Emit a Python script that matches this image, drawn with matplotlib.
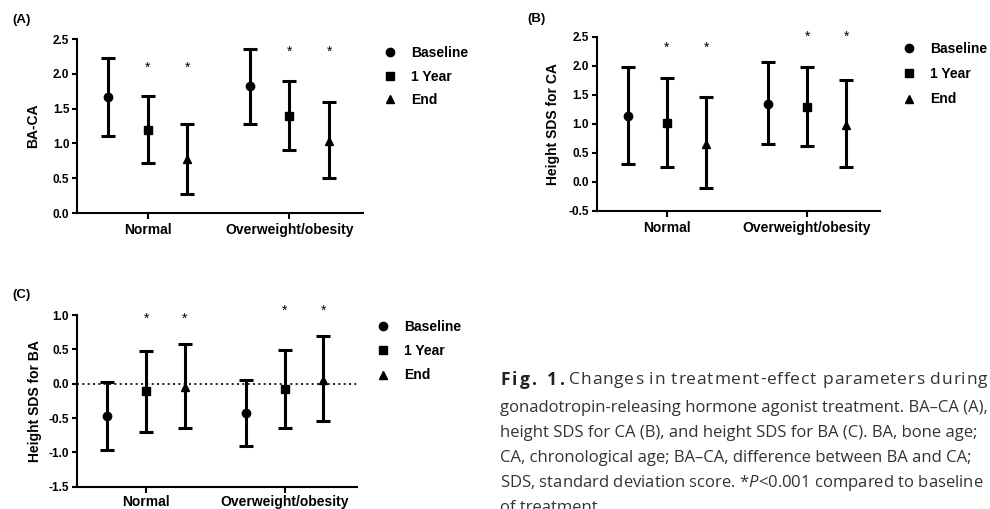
import matplotlib
matplotlib.use("Agg")
import matplotlib.pyplot as plt
from matplotlib.lines import Line2D

plt.rcParams["font.family"] = ["Liberation Sans", "DejaVu Sans"]
plt.rcParams["mathtext.fontset"] = "custom"
plt.rcParams["mathtext.it"] = "Open Sans:italic"
plt.rcParams["mathtext.rm"] = "Open Sans"

groups = ["Normal", "Overweight/obesity"]
timepoints = ["Baseline", "1 Year", "End"]
markers = ["o", "s", "^"]

# mean, lower, upper per timepoint, per group (Normal, Overweight/obesity)
ba_ca_mean = [[1.66, 1.82], [1.20, 1.40], [0.77, 1.03]]
ba_ca_low = [[1.10, 1.28], [0.72, 0.91], [0.28, 0.50]]
ba_ca_high = [[2.23, 2.36], [1.68, 1.90], [1.28, 1.60]]

sds_ca_mean = [[1.14, 1.34], [1.02, 1.29], [0.65, 0.98]]
sds_ca_low = [[0.30, 0.65], [0.26, 0.61], [-0.10, 0.25]]
sds_ca_high = [[1.98, 2.06], [1.78, 1.97], [1.46, 1.75]]

sds_ba_mean = [[-0.47, -0.42], [-0.11, -0.08], [-0.05, 0.06]]
sds_ba_low = [[-0.97, -0.90], [-0.70, -0.65], [-0.65, -0.54]]
sds_ba_high = [[0.03, 0.06], [0.48, 0.49], [0.58, 0.70]]

# star heights (1 Year and End) per group
star_a = [2.08, 2.31]
star_b = [2.30, 2.50]
star_c = [0.95, 1.06]

caption_head = "Changes in treatment-effect parameters during"
caption = [
    "gonadotropin-releasing hormone agonist treatment. BA\u2013CA (A),",
    "height SDS for CA (B), and height SDS for BA (C). BA, bone age;",
    "CA, chronological age; BA\u2013CA, difference between BA and CA;",
    "SDS, standard deviation score. *$P$<0.001 compared to baseline",
    "of treatment.",
]

offsets = [-0.28, 0.0, 0.28]


def panel(ax, means, lows, highs, stars, ylim, yticks, ylabel, zero_line=False,
          xpad=3, labelpad=3):
    for t in range(3):
        xs = [g + offsets[t] for g in range(2)]
        m = means[t]
        err = [[m[g] - lows[t][g] for g in range(2)], [highs[t][g] - m[g] for g in range(2)]]
        ax.errorbar(xs, m, yerr=err, fmt=markers[t], color="black", ms=6,
                    elinewidth=2.2, capsize=5, capthick=2.2, zorder=3)
    for g in range(2):
        for t in (1, 2):
            ax.text(g + offsets[t], stars[g], "*", ha="center", va="center",
                    fontsize=10)
    if zero_line:
        ax.axhline(0, color="black", lw=1.2, ls=(0, (1.2, 2)), zorder=1)
    ax.set_xlim(-0.5, 1.52)
    ax.set_ylim(*ylim)
    ax.set_yticks(yticks)
    ax.set_yticklabels([f"{v:.1f}" for v in yticks], fontsize=8.5, fontweight="bold")
    ax.set_xticks([0, 1])
    ax.set_xticklabels(groups, fontsize=10, fontweight="bold")
    ax.set_ylabel(ylabel, fontsize=10, fontweight="bold", labelpad=labelpad)
    ax.spines["top"].set_visible(False)
    ax.spines["right"].set_visible(False)
    for s in ("left", "bottom"):
        ax.spines[s].set_linewidth(1.5)
    ax.tick_params(axis="y", width=1.5, length=3.5, pad=2)
    ax.tick_params(axis="x", width=1.5, length=4, pad=xpad)


fig = plt.figure(figsize=(9.9, 5.09), dpi=100)
ax_a = fig.add_axes([0.0778, 0.5815, 0.2889, 0.3418])
ax_b = fig.add_axes([0.6027, 0.5855, 0.2862, 0.3425])
ax_c = fig.add_axes([0.0775, 0.0438, 0.2828, 0.3373])

panel(ax_a, ba_ca_mean, ba_ca_low, ba_ca_high, star_a, (0, 2.5),
      [0.0, 0.5, 1.0, 1.5, 2.0, 2.5], "BA-CA", labelpad=9.5)
panel(ax_b, sds_ca_mean, sds_ca_low, sds_ca_high, star_b, (-0.5, 2.5),
      [-0.5, 0.0, 0.5, 1.0, 1.5, 2.0, 2.5], "Height SDS for CA", labelpad=6)
panel(ax_c, sds_ba_mean, sds_ba_low, sds_ba_high, star_c, (-1.5, 1.0),
      [-1.5, -1.0, -0.5, 0.0, 0.5, 1.0], "Height SDS for BA", zero_line=True,
      xpad=2, labelpad=4.5)

handles = [Line2D([], [], marker=m, color="black", ls="none", ms=6) for m in markers]
for anchor, spacing in [((0.387, 0.91), 0.7), ((0.911, 0.917), 0.8),
                        ((0.38, 0.372), 0.75)]:
    fig.legend(handles, timepoints, loc="upper left", bbox_to_anchor=anchor,
               frameon=False, prop={"size": 10, "weight": "bold"},
               handlelength=1.0, handletextpad=1.0,
               labelspacing=spacing, borderpad=0, borderaxespad=0)

fig.text(0.012, 0.96, "(A)", fontsize=9.5, fontweight="bold", va="center")
fig.text(0.533, 0.963, "(B)", fontsize=9.5, fontweight="bold", va="center")
fig.text(0.012, 0.42, "(C)", fontsize=9.5, fontweight="bold", va="center")

# caption: first line is justified (letter-spaced) in the source
cap_font = ["Open Sans", "DejaVu Sans"]
renderer = fig.canvas.get_renderer()
y1 = 1 - 380 / 509


def text_width(s, **kw):
    t = fig.text(0, 0, s, **kw)
    w = t.get_window_extent(renderer).width
    t.remove()
    return w


def tracked(s, x0, x_last, **kw):
    # spread characters so the last word starts at x_last (pixels)
    last_start = s.rfind(" ") + 1
    nat = text_width(s[:last_start], **kw)
    track = (x_last - x0 - nat) / last_start
    for i, ch in enumerate(s):
        if ch == " ":
            continue
        x = x0 + (text_width(s[:i], **kw) if i else 0) + i * track
        fig.text(x / 990, y1, ch, va="center", **kw)


head_kw = dict(fontsize=12.5, family=cap_font, fontweight="bold", color="#222222")
tracked("Fig. 1.", 500, 547, **head_kw)
body_kw = dict(fontsize=12.5, family=cap_font, color="#333333")
tracked(caption_head, 569, 930, **body_kw)
for i, line in enumerate(caption):
    fig.text(500 / 990, 1 - (408 + 25 * i) / 509, line, fontsize=12,
             family=cap_font, color="#333333", va="center")

fig.savefig("out.png", dpi=100)
